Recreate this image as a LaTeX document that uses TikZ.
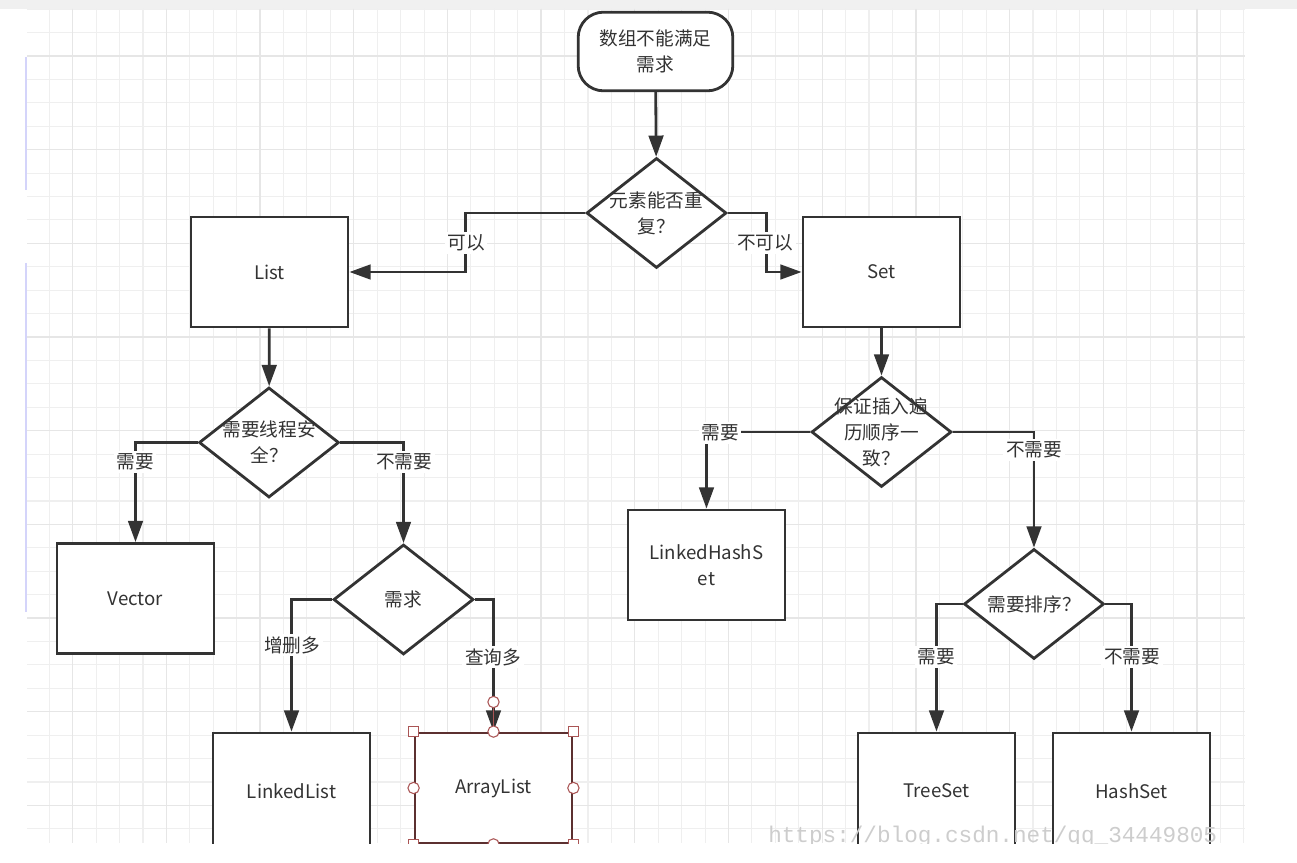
\documentclass[tikz,border=0pt]{standalone}
\usepackage{fontspec}
\setmainfont{Noto Sans CJK SC}
\newfontfamily\wmfont{Liberation Mono}
\usepackage{tikz}
\usetikzlibrary{shapes.geometric,arrows.meta}

\definecolor{linegray}{RGB}{51,51,51}
\definecolor{gridminor}{RGB}{239,239,239}
\definecolor{gridmajor}{RGB}{230,230,230}
\definecolor{stripgray}{RGB}{240,240,240}
\definecolor{selbrown}{RGB}{92,48,48}
\definecolor{selred}{RGB}{170,85,85}
\definecolor{lavender}{RGB}{212,212,250}
\definecolor{wmgray}{RGB}{205,205,205}

\begin{document}
\begin{tikzpicture}[x=0.75pt, y=-0.75pt,
    every node/.style={font=\fontsize{14}{19.5}\selectfont, text=linegray},
    flow/.style={draw=linegray, line width=2.1pt},
    arr/.style={flow, -{Triangle[length=16pt, width=11pt]}},
    box/.style={flow, fill=white, rectangle, minimum width=117.75pt, minimum height=82.5pt, inner sep=0pt},
    tallbox/.style={box, minimum height=87pt},
    term/.style={flow, fill=white, rectangle, rounded corners=19pt, minimum width=116pt, minimum height=59pt, align=center, inner sep=0pt},
    dia/.style={flow, fill=white, diamond, minimum width=105pt, minimum height=82.5pt, inner sep=0pt},
    txt/.style={align=center, inner sep=0pt},
    lbl/.style={fill=white, inner sep=2pt},
    hsq/.style={draw=selred, fill=white, line width=0.8pt, rectangle, minimum size=8pt, inner sep=0pt},
    hcirc/.style={draw=selred, fill=white, line width=0.8pt, circle, minimum size=8.5pt, inner sep=0pt}]

    \useasboundingbox (0,0) rectangle (1297,863);
    \fill[stripgray] (0,0) rectangle (1297,9);
    \draw[lavender, line width=1.5pt] (26,57) -- (26,190);
    \draw[lavender, line width=1.5pt] (26,263) -- (26,612);

    \begin{scope}
        \clip (27,9) rectangle (1245,843);
        \foreach \k in {0,...,52}
            \draw[gridminor, line width=0.8pt] ({25.9+23.42*\k},9) -- ({25.9+23.42*\k},843);
        \foreach \k in {0,...,35}
            \draw[gridminor, line width=0.8pt] (27,{9.16+23.42*\k}) -- (1245,{9.16+23.42*\k});
        \foreach \k in {2,6,...,50}
            \draw[gridmajor, line width=1pt] ({25.9+23.42*\k},9) -- ({25.9+23.42*\k},843);
        \foreach \k in {2,6,...,34}
            \draw[gridmajor, line width=1pt] (27,{9.16+23.42*\k}) -- (1245,{9.16+23.42*\k});

        \node[term] (start) at (655.5,51.5) {数组不能满足\\需求};
        \node[dia] (d1) at (656.5,213) {};
        \node[txt] (d1t) at (d1) {元素能否重\\复？};
        \node[box] (list) at (269.5,272) {List};
        \node[box] (set) at (881.5,272) {Set};

        \node[dia] (d2) at (269,442.5) {};
        \node[txt] (d2t) at (d2) {需要线程安\\全？};
        \node[box] (vector) at (135.5,598.5) {Vector};
        \node[dia] (d3) at (403.5,599.5) {};
        \node[txt] (d3t) at (d3) {需求};
        \node[tallbox] (linkedlist) at (291.5,791) {LinkedList};
        \node[box, draw=selbrown] (arraylist) at (493.5,788) {ArrayList};

        \node[dia] (d4) at (881.5,432) {};
        \node[txt] (d4t) at (d4) {保证插入遍\\历顺序一\\致？};
        \node[box, align=center] (lhs) at (706.5,565) {LinkedHashS\\et};
        \node[dia] (d5) at (1034,604) {};
        \node[txt] (d5t) at (d5) {需要排序？};
        \node[tallbox] (treeset) at (936.5,791) {TreeSet};
        \node[tallbox] (hashset) at (1131.5,791) {HashSet};

        \draw[arr] (start) -- (d1);
        \draw[arr] (d1.west) -- ++(-120,0) |- (list.east);
        \draw[arr] (d1.east) -- ++(38.5,0) |- (set.west);
        \draw[arr] (list) -- (d2);
        \draw[arr] (d2.west) -| (vector.north);
        \draw[arr] (d2.east) -| (d3.north);
        \draw[arr] (d3.west) -| (linkedlist.north);
        \draw[arr] (d3.east) -| (arraylist.north);
        \draw[arr] (set) -- (d4);
        \draw[arr] (d4.west) -| (lhs.north);
        \draw[arr] (d4.east) -| (d5.north);
        \draw[arr] (d5.west) -| (treeset.north);
        \draw[arr] (d5.east) -| (hashset.north);

        \node[lbl] (l1) at (466,243) {可以};
        \node[lbl] (l2) at (765,243) {不可以};
        \node[lbl] (l3) at (135,462) {需要};
        \node[lbl] (l4) at (404,462) {不需要};
        \node[lbl] (l5) at (292,645) {增删多};
        \node[lbl] (l6) at (493,657) {查询多};
        \node[lbl] (l7) at (720,433) {需要};
        \node[lbl] (l8) at (1034,450) {不需要};
        \node[lbl] (l9) at (936,657) {需要};
        \node[lbl] (l10) at (1132,657) {不需要};

        \node[hcirc] (grip) at (493.5,702) {};
        \draw[selred, line width=0.8pt] (grip) -- (arraylist.north);
        \foreach \a in {north west,north east,south west,south east}
            \node[hsq] at (arraylist.\a) {};
        \foreach \a in {north,south,east,west}
            \node[hcirc] at (arraylist.\a) {};

        \node[anchor=base west, inner sep=0pt, text=wmgray, font=\wmfont\fontsize{17}{17}\selectfont] (wm) at (768,842) {https://blog.csdn.net/qq\_34449805};
    \end{scope}
\end{tikzpicture}
\end{document}
